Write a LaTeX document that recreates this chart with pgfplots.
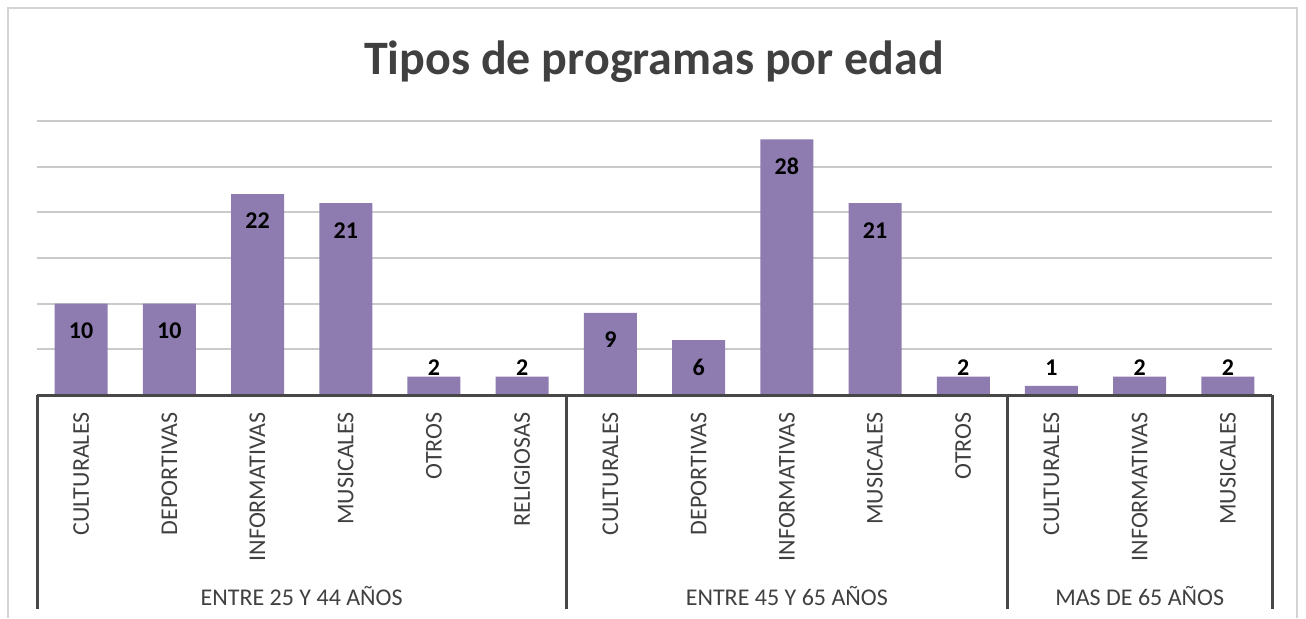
\documentclass[border=0pt]{standalone}
\usepackage{fontspec}
\setmainfont{Carlito}
\usepackage{pgfplots}
\pgfplotsset{compat=1.18}

\definecolor{barpurple}{HTML}{8E7BB0}
\definecolor{txtgray}{HTML}{404040}
\definecolor{gridgray}{HTML}{CACACA}
\definecolor{framegray}{HTML}{D4D4D4}
\definecolor{axisgray}{HTML}{474747}

\begin{document}
\begin{tikzpicture}
% page = 1306 x 618 px at 0.5pt per px
\path[use as bounding box] (0,0) rectangle (653pt,-309pt);
\draw[framegray, line width=0.8pt] (4pt,-309pt) -- (4pt,-4pt) -- (648.5pt,-4pt) -- (648.5pt,-309pt);
\node[font=\fontsize{24}{28}\selectfont\bfseries, text=txtgray] at (327pt,-31pt) {Tipos de programas por edad};

\begin{axis}[
  at={(18.5pt,-197.5pt)}, anchor=south west,
  scale only axis, width=617.5pt, height=137pt,
  xmin=-0.5, xmax=13.5, ymin=0, ymax=30,
  axis line style={draw=none}, clip=false,
  ytick={5,10,...,30}, ymajorgrids,
  xtick=data,
  xticklabels={CULTURALES,DEPORTIVAS,INFORMATIVAS,MUSICALES,OTROS,RELIGIOSAS,
    CULTURALES,DEPORTIVAS,INFORMATIVAS,MUSICALES,OTROS,
    CULTURALES,INFORMATIVAS,MUSICALES},
  yticklabels={},
  major tick length=0pt, tick style={draw=none},
  /pgf/number format/assume math mode=true,
  xticklabel style={rotate=90, anchor=east, font=\fontsize{12}{14}\selectfont, text=txtgray, inner sep=0pt, xshift=-8.5pt},
  grid style={gridgray, line width=0.9pt},
]
\addplot[ybar, bar width=26.5pt, fill=barpurple, draw=none] coordinates {
  (0,10)(1,10)(2,22)(3,21)(4,2)(5,2)(6,9)(7,6)(8,28)(9,21)(10,2)(11,1)(12,2)(13,2)};
% labels inside the bar end
\addplot[draw=none, mark=none, nodes near coords,
  every node near coord/.append style={anchor=center, yshift=-13.5pt, font=\fontsize{12}{14}\selectfont\bfseries, text=black}]
  coordinates {(0,10)(1,10)(2,22)(3,21)(6,9)(7,6)(8,28)(9,21)};
% labels above short bars (all set on one line, value as meta)
\addplot[draw=none, mark=none, point meta=explicit, nodes near coords,
  every node near coord/.append style={anchor=south, inner sep=0pt, yshift=0.5pt, font=\fontsize{12}{14}\selectfont\bfseries, text=black}]
  coordinates {(4,2)[2] (5,2)[2] (10,2)[2] (11,2)[1] (12,2)[2] (13,2)[2]};

\draw[axisgray, line width=1.5pt] (axis cs:-0.5,0) -- (axis cs:13.5,0);
\pgfplotsinvokeforeach{-0.5,5.5,10.5,13.5}{
  \draw[axisgray, line width=1.5pt] (axis cs:#1,0) -- ([yshift=-107pt]axis cs:#1,0);
}
\node[font=\fontsize{12}{14}\selectfont, text=txtgray] at ([yshift=-100.5pt]axis cs:2.5,0) {ENTRE 25 Y 44 AÑOS};
\node[font=\fontsize{12}{14}\selectfont, text=txtgray] at ([yshift=-100.5pt]axis cs:8,0) {ENTRE 45 Y 65 AÑOS};
\node[font=\fontsize{12}{14}\selectfont, text=txtgray] at ([yshift=-100.5pt]axis cs:12,0) {MAS DE 65 AÑOS};
\end{axis}
\end{tikzpicture}
\end{document}
